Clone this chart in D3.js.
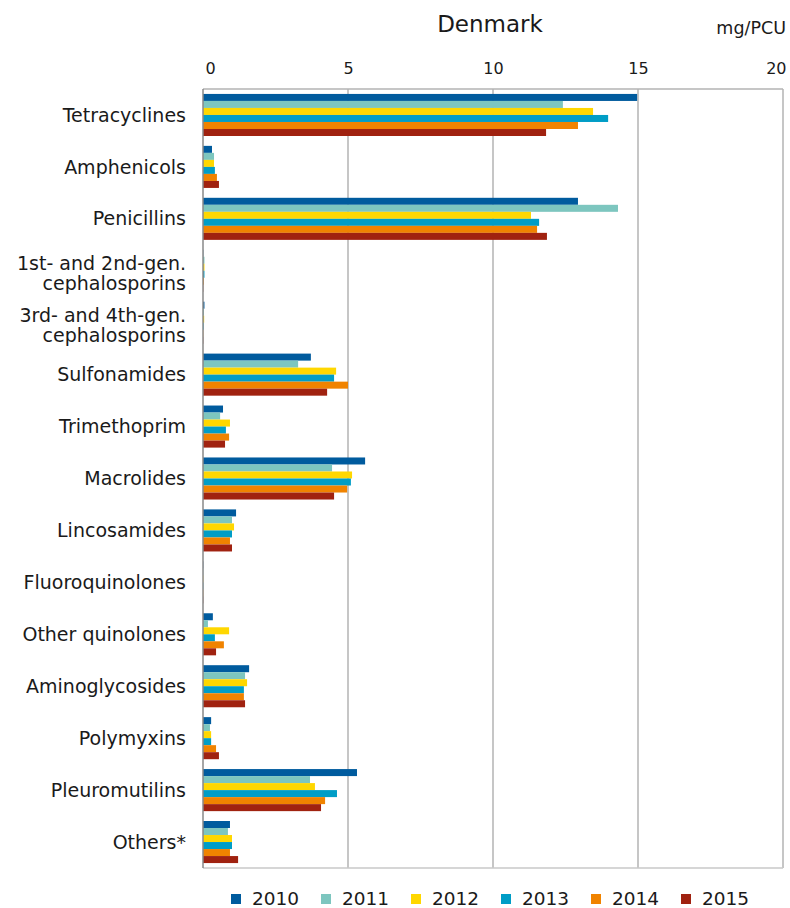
<!DOCTYPE html>
<html><head><meta charset="utf-8">
<script src="https://cdn.jsdelivr.net/npm/d3@7"></script>
<style>body{margin:0;background:#fff}svg{display:block}text{font-family:"DejaVu Sans",Verdana,sans-serif;fill:#1a1a1a}</style>
</head><body><svg id="c" width="790" height="908"></svg>
<script>
const categories = ["Tetracyclines","Amphenicols","Penicillins","1st- and 2nd-gen.\ncephalosporins","3rd- and 4th-gen.\ncephalosporins","Sulfonamides","Trimethoprim","Macrolides","Lincosamides","Fluoroquinolones","Other quinolones","Aminoglycosides","Polymyxins","Pleuromutilins","Others*"];
const years = ["2010","2011","2012","2013","2014","2015"];
const v2010 = [14.97,0.31,12.93,0.01,0.05,3.72,0.69,5.59,1.14,0.01,0.34,1.59,0.28,5.31,0.93];
const v2011 = [12.41,0.38,14.31,0.05,0.03,3.28,0.59,4.45,1.00,0.01,0.17,1.45,0.24,3.69,0.86];
const v2012 = [13.45,0.38,11.31,0.05,0.04,4.59,0.93,5.14,1.07,0.01,0.90,1.52,0.28,3.86,1.00];
const v2013 = [13.97,0.41,11.59,0.05,0.02,4.52,0.79,5.10,1.00,0.01,0.41,1.41,0.28,4.62,1.00];
const v2014 = [12.93,0.48,11.52,0.03,0.01,5.00,0.90,4.97,0.93,0.01,0.72,1.41,0.45,4.21,0.93];
const v2015 = [11.83,0.55,11.86,0.01,0.01,4.28,0.76,4.52,1.00,0.01,0.45,1.45,0.55,4.07,1.21];
const series = [v2010,v2011,v2012,v2013,v2014,v2015];
const tickValues = [0,5,10,15,20];
const colors = ["#005b9e","#7dc6bf","#ffd700","#009dc6","#f08300","#a02210"];

const svg = d3.select("#c");
const L=203, R=783, T=89, B=868;
const x = d3.scaleLinear().domain([0,20]).range([L,R]);
const y = d3.scaleBand().domain(categories).range([T,B]).paddingInner(0.19).paddingOuter(0.095);
const yi = d3.scaleBand().domain(years).range([0,y.bandwidth()]);

// gridlines
svg.append("g").selectAll("line").data(tickValues.slice(1)).join("line")
  .attr("x1",d=>x(d)).attr("x2",d=>x(d)).attr("y1",T).attr("y2",B)
  .attr("stroke","#b3b3b3").attr("stroke-width",1.5);
svg.append("line").attr("x1",L).attr("x2",R).attr("y1",T).attr("y2",T).attr("stroke","#b3b3b3").attr("stroke-width",1.5);
svg.append("line").attr("x1",L).attr("x2",R).attr("y1",B).attr("y2",B).attr("stroke","#c8c8c8").attr("stroke-width",1.5);

// bars
years.forEach((yr,i)=>{
  svg.append("g").attr("fill",colors[i]).selectAll("rect").data(categories).join("rect")
    .attr("x",x(0)).attr("y",(c)=>y(c)+yi(yr))
    .attr("width",(c,j)=>Math.max(0,x(series[i][j])-x(0)))
    .attr("height",yi.bandwidth());
});
svg.append("line").attr("x1",L).attr("x2",L).attr("y1",T).attr("y2",B).attr("stroke","#888").attr("stroke-width",1.5);

// top axis
const ax = d3.axisTop(x).tickValues(tickValues).tickSize(0).tickPadding(0);
const g = svg.append("g").attr("transform",`translate(0,74)`).call(ax);
g.select(".domain").remove();
g.selectAll("text").style("font-size","16px").style("font-family","DejaVu Sans, Verdana, sans-serif").attr("fill","#1a1a1a")
  .attr("text-anchor",d=>d===0?"start":(d===20?"end":"middle"))
  .attr("dx",d=>d===0?2:(d===20?3:0));

// category labels
const lab = svg.append("g").selectAll("text").data(categories).join("text")
  .attr("text-anchor","end").attr("font-size","19px")
  .attr("transform",c=>`translate(186,${y(c)+y.bandwidth()/2})`);
lab.each(function(c){
  const lines=c.split("\n"); const t=d3.select(this);
  const off = lines.length>1 ? 3 : 0;
  lines.forEach((ln,k)=>{
    t.append("tspan").attr("x",0).attr("y",(k-(lines.length-1)/2)*20+off).attr("dy","0.35em").text(ln);
  });
});

// title
svg.append("text").attr("x",490).attr("y",32).attr("text-anchor","middle").attr("font-size","23px").text("Denmark");
svg.append("text").attr("x",786).attr("y",34).attr("text-anchor","end").attr("font-size","17.5px").text("mg/PCU");

// legend
const lg = svg.append("g").selectAll("g").data(years).join("g")
  .attr("transform",(d,i)=>`translate(${231+i*90},899)`);
lg.append("rect").attr("x",0).attr("y",-5).attr("width",10).attr("height",10).attr("fill",(d,i)=>colors[i]);
lg.append("text").attr("x",21).attr("y",0).attr("dy","0.35em").attr("font-size","18.5px").text(d=>d);
</script></body></html>
